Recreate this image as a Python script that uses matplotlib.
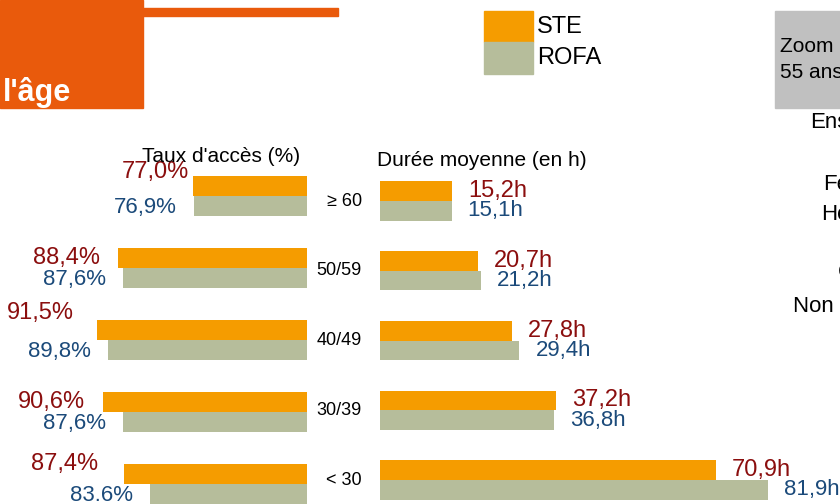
import matplotlib
matplotlib.use("Agg")
import matplotlib.pyplot as plt
from matplotlib.patches import Rectangle
from matplotlib.transforms import blended_transform_factory

plt.rcParams['font.family'] = ['Liberation Sans', 'DejaVu Sans']

# data
age_groups = ['≥ 60', '50/59', '40/49', '30/39', '< 30']
ste_rate = [77.0, 88.4, 91.5, 90.6, 87.4]
rofa_rate = [76.9, 87.6, 89.8, 87.6, 83.6]
ste_rate_labels = ['77,0%', '88,4%', '91,5%', '90,6%', '87,4%']
rofa_rate_labels = ['76,9%', '87,6%', '89,8%', '87,6%', '83.6%']
ste_hours = [15.2, 20.7, 27.8, 37.2, 70.9]
rofa_hours = [15.1, 21.2, 29.4, 36.8, 81.9]
ste_hours_labels = ['15,2h', '20,7h', '27,8h', '37,2h', '70,9h']
rofa_hours_labels = ['15,1h', '21,2h', '29,4h', '36,8h', '81,9h']
side_labels = ['Ensemble', 'Femmes', 'Hommes', 'Cadres', 'Non cadres']

ORANGE = '#E95A0C'
STE_C = '#F59C00'
ROFA_C = '#B6BD9B'
RED = '#8B0E0E'
BLUE = '#1B4A7A'

W, H = 840, 504
fig = plt.figure(figsize=(8.4, 5.04), dpi=100)

def fx(px):
    return px / W

def fy(py):
    return 1 - py / H

# header decorations
fig.patches.append(Rectangle((0, fy(108)), fx(143), 108 / H, transform=fig.transFigure,
                             color=ORANGE, zorder=0))
fig.patches.append(Rectangle((fx(143), fy(15.5)), fx(195), 7.5 / H, transform=fig.transFigure,
                             color=ORANGE, zorder=0))
fig.text(fx(3), fy(101), "l'âge", color='white', fontsize=22, fontweight='bold',
         ha='left', va='baseline')

# legend
fig.patches.append(Rectangle((fx(484), fy(42)), fx(49), 31 / H, transform=fig.transFigure, color=STE_C))
fig.patches.append(Rectangle((fx(484), fy(73.5)), fx(49), 31.5 / H, transform=fig.transFigure, color=ROFA_C))
fig.text(fx(537), fy(27), 'STE', fontsize=17, ha='left', va='center')
fig.text(fx(537), fy(58), 'ROFA', fontsize=17, ha='left', va='center')

# grey box on the right (cut by the page edge)
fig.patches.append(Rectangle((fx(775), fy(108)), fx(70), 97 / H, transform=fig.transFigure,
                             color='#C0C0C0', zorder=0))
fig.text(fx(780), fy(46), 'Zoom  sur les', fontsize=15, ha='left', va='center')
fig.text(fx(780), fy(73), '55 ans et plus', fontsize=15, ha='left', va='center')
for lab, x, y in zip(side_labels, [810, 823, 821, 838, 793], [122, 184, 214, 272, 307]):
    fig.text(fx(x), fy(y), lab, fontsize=16, ha='left', va='center')

# headings
fig.text(fx(221), fy(156), "Taux d'accès (%)", fontsize=15, ha='center', va='center')
fig.text(fx(482), fy(161), 'Durée moyenne (en h)', fontsize=15, ha='center', va='center')

h = 0.282
rows = list(range(len(age_groups)))

# left panel: access rate, axis starting at 60, bars going left
axl = fig.add_axes([0, 0, fx(306.7), 344 / H])
axl.set_xlim(60 + 306.7 / 6.66, 60)
axl.set_ylim(4.278, -0.5)
axl.axis('off')
axl.barh([r - h for r in rows], [v - 60 for v in ste_rate], left=60, height=h,
         align='edge', color=STE_C)
axl.barh(rows, [v - 60 for v in rofa_rate], left=60, height=h, align='edge', color=ROFA_C)

ste_gap = [4, 18, 23, 18, 26]
ste_dy = [-14, 0, -17, 0, -10]
for r in rows:
    axl.annotate(ste_rate_labels[r], xy=(ste_rate[r], r - h / 2),
                 xytext=(-ste_gap[r] * 0.72, -ste_dy[r] * 0.72), textcoords='offset points',
                 ha='right', va='center', fontsize=17, color=RED, annotation_clip=False)
    axl.annotate(rofa_rate_labels[r], xy=(rofa_rate[r], r + h / 2),
                 xytext=(-17 * 0.72, -1 * 0.72), textcoords='offset points',
                 ha='right', va='center', fontsize=16, color=BLUE, annotation_clip=False)

# right panel: mean duration
axr = fig.add_axes([fx(380), 0, fx(460), 344 / H])
axr.set_xlim(0, 460 / 4.741)
axr.set_ylim(4.344, -0.588)
axr.axis('off')
axr.barh([r - h for r in rows], ste_hours, height=h, align='edge', color=STE_C)
axr.barh(rows, rofa_hours, height=h, align='edge', color=ROFA_C)
for r in rows:
    axr.annotate(ste_hours_labels[r], xy=(ste_hours[r], r - h / 2),
                 xytext=(16 * 0.72, 0), textcoords='offset points',
                 ha='left', va='center', fontsize=17, color=RED, annotation_clip=False)
    axr.annotate(rofa_hours_labels[r], xy=(rofa_hours[r], r + h / 2),
                 xytext=(16 * 0.72, 0), textcoords='offset points',
                 ha='left', va='center', fontsize=16, color=BLUE, annotation_clip=False)

# age group labels between the panels
tr = blended_transform_factory(fig.transFigure, axr.transData)
for r in rows:
    axr.text(fx(362), r, age_groups[r], transform=tr, fontsize=13, ha='right', va='center')

fig.savefig('out.png', dpi=100)
